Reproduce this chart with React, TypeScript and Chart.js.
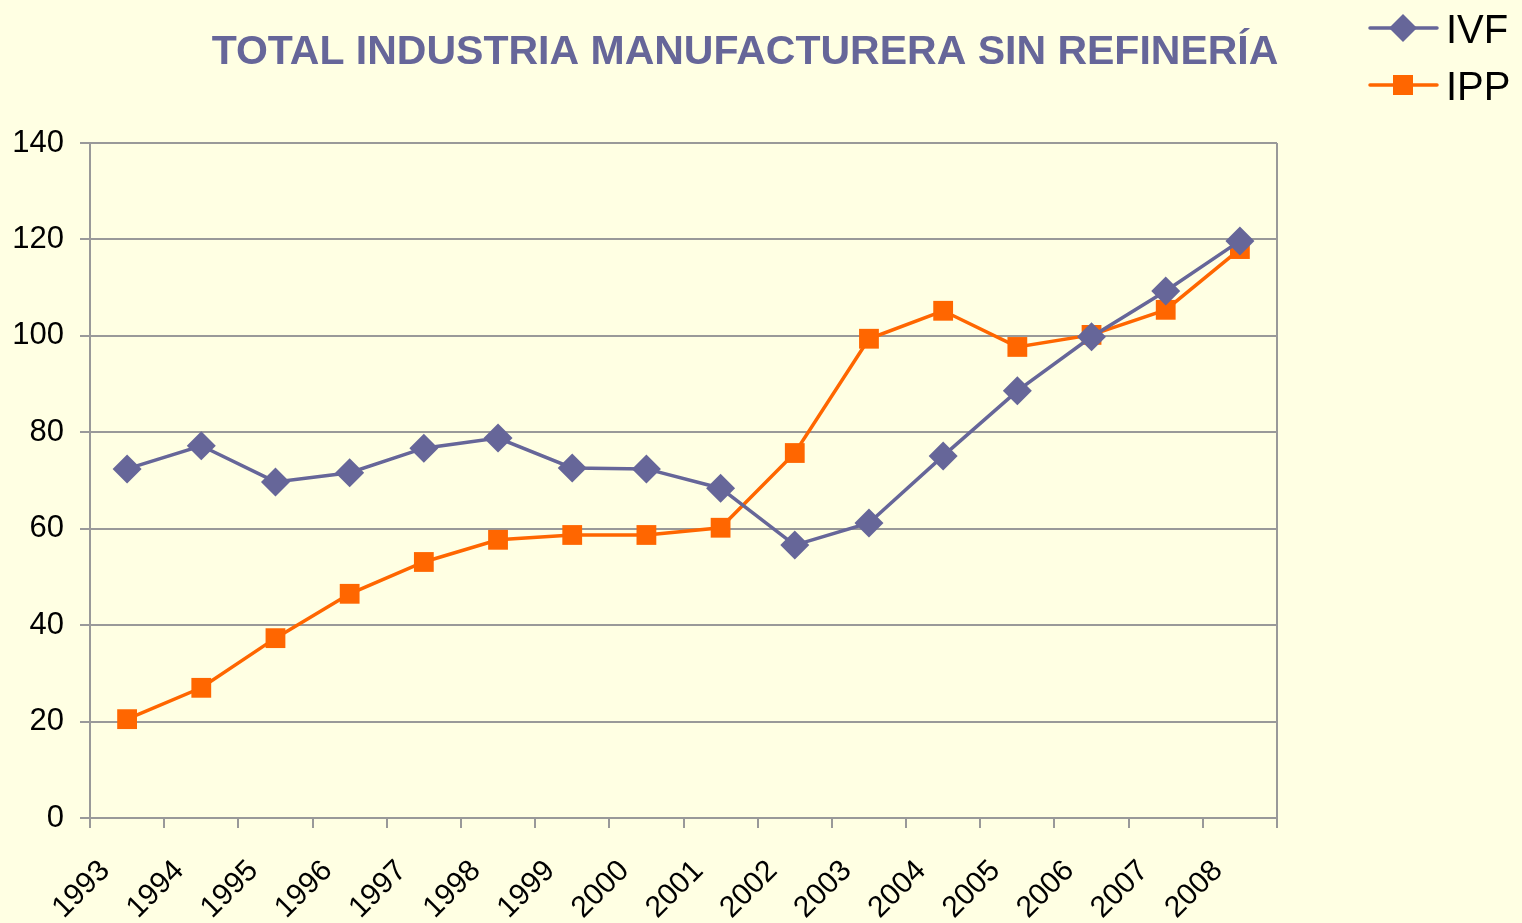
import React, { useEffect, useRef } from 'react';
import { Chart, registerables } from 'chart.js';

Chart.register(...registerables);

const years = ['1993', '1994', '1995', '1996', '1997', '1998', '1999', '2000', '2001', '2002', '2003', '2004', '2005', '2006', '2007', '2008'];
const ivf = [72.4, 77.2, 69.7, 71.6, 76.7, 78.8, 72.6, 72.4, 68.4, 56.6, 61.2, 75.1, 88.6, 99.8, 109.3, 119.7];
const ipp = [20.5, 27.0, 37.3, 46.5, 53.1, 57.7, 58.7, 58.7, 60.2, 75.7, 99.4, 105.2, 97.7, 100.2, 105.4, 118.0];
const seriesNames = ['IVF', 'IPP'];
const titleText = 'TOTAL INDUSTRIA MANUFACTURERA SIN REFINERÍA';
const yMin = 0;
const yMax = 140;
const yStep = 20;

const IVF_COLOR = '#666699';
const IPP_COLOR = '#FF6600';
const BG = '#FFFFE3';
const GRID = '#999999';
const FONT = '"Liberation Sans", Arial, sans-serif';

const decoPlugin = {
  id: 'deco',
  beforeDraw(chart: any) {
    const ctx = chart.ctx;
    ctx.save();
    ctx.fillStyle = BG;
    ctx.fillRect(0, 0, chart.width, chart.height);
    ctx.restore();
  },
  beforeDatasetsDraw(chart: any) {
    const { ctx, chartArea } = chart;
    ctx.save();
    ctx.strokeStyle = GRID;
    ctx.lineWidth = 2;
    ctx.beginPath();
    ctx.moveTo(chartArea.right, chartArea.top);
    ctx.lineTo(chartArea.right, chartArea.bottom);
    ctx.stroke();
    ctx.restore();
  },
  afterDraw(chart: any) {
    const ctx = chart.ctx;
    ctx.save();
    // x-axis category labels (rotated), positioned from the x scale
    const xs = chart.scales.x;
    ctx.fillStyle = '#000000';
    ctx.font = `30px ${FONT}`;
    ctx.textAlign = 'right';
    ctx.textBaseline = 'middle';
    years.forEach((lab, i) => {
      const px = xs.getPixelForValue(i);
      ctx.save();
      ctx.translate(px - 22, xs.top + 48);
      ctx.rotate(-Math.PI / 4);
      ctx.fillText(lab, 0, 0);
      ctx.restore();
    });

    // title
    ctx.fillStyle = IVF_COLOR;
    ctx.font = `bold 41px ${FONT}`;
    ctx.textAlign = 'center';
    ctx.textBaseline = 'alphabetic';
    ctx.fillText(titleText, 745, 64);

    // legend
    const items = [
      { name: seriesNames[0], color: IVF_COLOR, y: 28, shape: 'diamond' },
      { name: seriesNames[1], color: IPP_COLOR, y: 85, shape: 'square' },
    ];
    items.forEach((it) => {
      ctx.strokeStyle = it.color;
      ctx.lineWidth = 3.5;
      ctx.lineCap = 'round';
      ctx.beginPath();
      ctx.moveTo(1370, it.y);
      ctx.lineTo(1437, it.y);
      ctx.stroke();
      ctx.fillStyle = it.color;
      ctx.beginPath();
      const cx = 1403;
      if (it.shape === 'diamond') {
        const r = 14;
        ctx.moveTo(cx - r, it.y);
        ctx.lineTo(cx, it.y - r);
        ctx.lineTo(cx + r, it.y);
        ctx.lineTo(cx, it.y + r);
        ctx.closePath();
      } else {
        ctx.rect(cx - 10, it.y - 10, 20, 20);
      }
      ctx.fill();
      ctx.fillStyle = '#000000';
      ctx.font = `40px ${FONT}`;
      ctx.textAlign = 'left';
      ctx.fillText(it.name, 1446, it.y + 15);
    });
    ctx.restore();
  },
};

export default function App() {
  const ref = useRef<HTMLCanvasElement | null>(null);

  useEffect(() => {
    if (!ref.current) return;
    const chart = new Chart(ref.current, {
      type: 'line',
      data: {
        labels: years,
        datasets: [
          {
            label: seriesNames[0],
            data: ivf,
            borderColor: IVF_COLOR,
            backgroundColor: IVF_COLOR,
            borderWidth: 3.5,
            pointStyle: 'rectRot',
            pointRadius: 14.5,
            pointBorderWidth: 0,
            pointBackgroundColor: IVF_COLOR,
            tension: 0,
          },
          {
            label: seriesNames[1],
            data: ipp,
            borderColor: IPP_COLOR,
            backgroundColor: IPP_COLOR,
            borderWidth: 3.5,
            pointStyle: 'rect',
            pointRadius: 14,
            pointBorderWidth: 0,
            pointBackgroundColor: IPP_COLOR,
            tension: 0,
          },
        ],
      },
      options: {
        responsive: false,
        animation: false,
        layout: { padding: { top: 143, right: 245, left: 0, bottom: 0 } },
        plugins: {
          legend: { display: false },
          title: { display: false },
          tooltip: { enabled: false },
        },
        scales: {
          x: {
            offset: true,
            afterFit: (s: any) => { s.height = 105; },
            grid: {
              offset: true,
              drawOnChartArea: false,
              drawTicks: true,
              tickLength: 10,
              color: GRID,
              lineWidth: 2,
            },
            border: { color: GRID, width: 2 },
            ticks: {
              display: false,
              autoSkip: false,
            },
          },
          y: {
            min: yMin,
            max: yMax,
            afterFit: (s: any) => { s.width = 90; },
            grid: {
              color: GRID,
              lineWidth: 2,
              tickLength: 10,
            },
            border: { color: GRID, width: 2 },
            ticks: {
              stepSize: yStep,
              color: '#000000',
              font: { family: FONT, size: 31 },
              padding: 16,
            },
          },
        },
      },
      plugins: [decoPlugin],
    });
    return () => chart.destroy();
  }, []);

  return (
    <div style={{ position: 'fixed', left: 0, top: 0, width: 1522, height: 923, background: BG }}>
      <canvas ref={ref} width={1522} height={923} style={{ width: 1522, height: 923, display: 'block' }} />
    </div>
  );
}
